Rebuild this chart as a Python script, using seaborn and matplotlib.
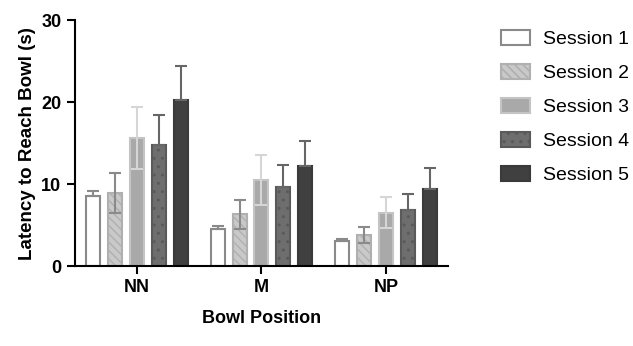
import numpy as np
import pandas as pd
import seaborn as sns
import matplotlib.pyplot as plt
from matplotlib.patches import Patch

sns.set_style("ticks")
plt.rcParams['font.family'] = ['Liberation Sans', 'DejaVu Sans']
plt.rcParams['text.color'] = 'black'
plt.rcParams['axes.labelcolor'] = 'black'
plt.rcParams['xtick.color'] = 'black'
plt.rcParams['ytick.color'] = 'black'

positions = ['NN', 'M', 'NP']
sessions = ['Session 1', 'Session 2', 'Session 3', 'Session 4', 'Session 5']
# means per session, in the order of positions
means = {
    'Session 1': [8.5, 4.5, 3.1],
    'Session 2': [8.9, 6.3, 3.8],
    'Session 3': [15.6, 10.5, 6.5],
    'Session 4': [14.8, 9.7, 6.8],
    'Session 5': [20.2, 12.2, 9.4],
}
sems = {
    'Session 1': [0.7, 0.35, 0.2],
    'Session 2': [2.4, 1.8, 1.0],
    'Session 3': [3.8, 3.0, 1.9],
    'Session 4': [3.6, 2.6, 2.0],
    'Session 5': [4.2, 3.1, 2.6],
}

fills = ['#ffffff', '#c9c9c9', '#a9a9a9', '#6e6e6e', '#404040']
edges = ['#8a8a8a', '#b0b0b0', '#c4c4c4', '#5a5a5a', '#3a3a3a']
hatches = [None, '\\\\\\\\', None, '..', None]
err_colors = ['#8a8a8a', '#8a8a8a', '#d6d6d6', '#666666', '#666666']

rows = []
for s in sessions:
    for i, p in enumerate(positions):
        rows.append({'pos': p, 'session': s, 'mean': means[s][i], 'sem': sems[s][i]})
df = pd.DataFrame(rows)

fig = plt.figure(figsize=(6.33, 3.46), dpi=100)
ax = fig.add_axes([0.118, 0.231, 0.59, 0.711])

sns.barplot(data=df, x='pos', y='mean', hue='session', order=positions,
            hue_order=sessions, palette=fills, width=0.88, gap=0.36,
            errorbar=None, legend=False, ax=ax)

plt.rcParams['hatch.color'] = 'white'
plt.rcParams['hatch.linewidth'] = 1.2
for k, s in enumerate(sessions):
    bars = ax.containers[k]
    for j, patch in enumerate(bars.patches):
        patch.set_edgecolor(edges[k])
        patch.set_linewidth(1.5)
        if hatches[k]:
            patch.set_hatch(hatches[k])
        x = patch.get_x() + patch.get_width() / 2
        m = means[s][j]
        e = sems[s][j]
        lower = e if k in (1, 2) else 0
        ax.errorbar(x, m, yerr=[[lower], [e]], color=err_colors[k], capsize=4,
                    elinewidth=1.5, capthick=1.5, zorder=3 if k in (1, 2) else 1)

ax.set_ylim(0, 30)
ax.set_yticks([0, 10, 20, 30])
ax.set_xlim(-0.5, 2.5)
sns.despine(ax=ax)
for sp in ['left', 'bottom']:
    ax.spines[sp].set_linewidth(1.5)
    ax.spines[sp].set_color('black')
ax.tick_params(axis='both', width=1.5, length=6, color='black')
for lab in ax.get_xticklabels() + ax.get_yticklabels():
    lab.set_fontweight('bold')
    lab.set_fontsize(13)
ax.set_xlabel('Bowl Position', fontsize=13, fontweight='bold', labelpad=10)
ax.set_ylabel('Latency to Reach Bowl (s)', fontsize=13.5, fontweight='bold')

handles = [Patch(facecolor=fills[k], edgecolor=edges[k], hatch=hatches[k], linewidth=1.5)
           for k in range(5)]
fig.legend(handles, sessions, loc='upper left', bbox_to_anchor=(0.764, 0.965),
           frameon=False, fontsize=14, handlelength=1.5, handleheight=0.85,
           labelspacing=0.8, handletextpad=0.63)

fig.savefig('out.png', dpi=100)
